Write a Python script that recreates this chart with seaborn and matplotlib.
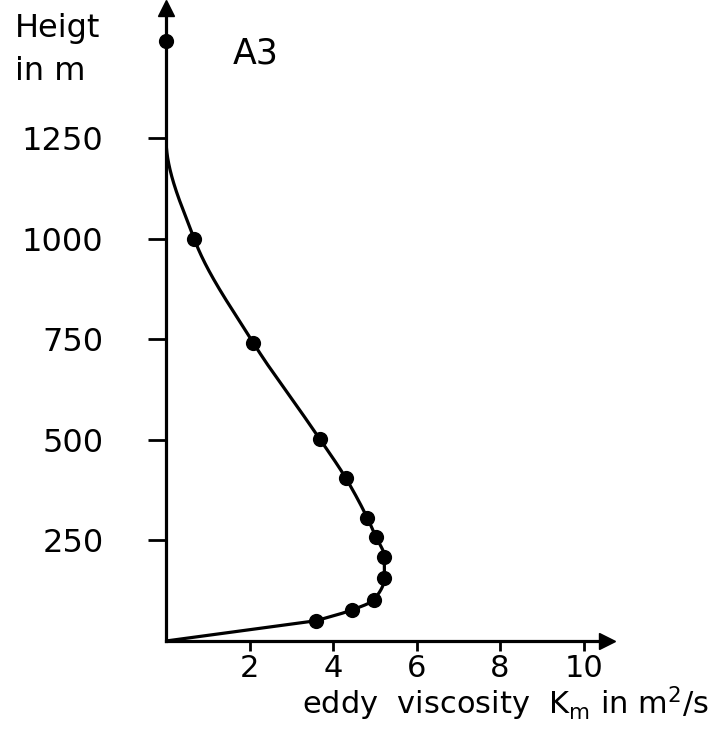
import numpy as np
import matplotlib
matplotlib.use("Agg")
import matplotlib.pyplot as plt
import seaborn as sns

# Measured points: eddy viscosity K_m (m^2/s) vs height (m)
heights = [50, 77, 102, 157, 209, 258, 306, 404, 501, 741, 998, 1490]
viscosity = [3.58, 4.45, 4.97, 5.23, 5.23, 5.03, 4.82, 4.31, 3.69, 2.09, 0.68, 0.0]

# Anchor points of the hand-drawn profile curve (origin and where it meets the axis)
anchor_heights = [0, 1250]
anchor_viscosity = [0.0, 0.0]

x_ticks = [2, 4, 6, 8, 10]
y_ticks = [250, 500, 750, 1000, 1250]

sns.set_theme(style="white")
plt.rcParams['font.family'] = ['DejaVu Sans']
plt.rcParams['mathtext.fontset'] = 'dejavusans'
plt.rcParams['text.color'] = 'black'


def pchip(xk, yk, xq):
    xk = np.asarray(xk, float); yk = np.asarray(yk, float)
    h = np.diff(xk); d = np.diff(yk) / h
    n = len(xk)
    m = np.zeros(n)
    for i in range(1, n - 1):
        if d[i - 1] * d[i] <= 0:
            m[i] = 0
        else:
            w1 = 2 * h[i] + h[i - 1]; w2 = h[i] + 2 * h[i - 1]
            m[i] = (w1 + w2) / (w1 / d[i - 1] + w2 / d[i])
    m[0] = d[0]; m[-1] = d[-1]
    out = np.empty_like(xq)
    idx = np.clip(np.searchsorted(xk, xq) - 1, 0, n - 2)
    for j, (q, i) in enumerate(zip(xq, idx)):
        t = (q - xk[i]) / h[i]
        h00 = 2 * t**3 - 3 * t**2 + 1; h10 = t**3 - 2 * t**2 + t
        h01 = -2 * t**3 + 3 * t**2; h11 = t**3 - t**2
        out[j] = h00 * yk[i] + h10 * h[i] * m[i] + h01 * yk[i + 1] + h11 * h[i] * m[i + 1]
    return out


# Build smooth curve through data + anchors (x as function of height)
ch = np.array(anchor_heights[:1] + heights[:-1] + anchor_heights[1:] + heights[-1:], float)
cx = np.array(anchor_viscosity[:1] + viscosity[:-1] + anchor_viscosity[1:] + viscosity[-1:], float)
order = np.argsort(ch)
ch, cx = ch[order], cx[order]
hq = np.linspace(0, ch[-1], 800)
# straight segment from origin to first point
xq = np.where(hq <= heights[0], hq / heights[0] * viscosity[0],
              pchip(ch[1:], cx[1:], np.clip(hq, heights[0], None)))
xq = np.clip(xq, 0, None)

fig = plt.figure(figsize=(7.25, 7.3), dpi=100)
ax = fig.add_axes([166 / 725, 89 / 730, 441 / 725, 633 / 730])

sns.lineplot(x=xq, y=hq, sort=False, estimator=None, color='black', lw=2.3, ax=ax)
sns.scatterplot(x=viscosity, y=heights, color='black', s=120, edgecolor='black',
                linewidth=0, ax=ax, zorder=5, clip_on=False)

ax.set_xlim(0, 10.56)
ax.set_ylim(0, 1573)
ax.set_xticks(x_ticks)
ax.set_xticklabels([str(v) for v in x_ticks])
ax.set_yticks(y_ticks)
ax.set_yticklabels([str(v) for v in y_ticks])
for s in ['top', 'right']:
    ax.spines[s].set_visible(False)
for s in ['left', 'bottom']:
    ax.spines[s].set_color('black')
    ax.spines[s].set_linewidth(2.3)
ax.tick_params(axis='x', direction='out', length=7.5, width=2, colors='black',
               labelsize=22, pad=2, bottom=True)
ax.tick_params(axis='y', direction='out', length=13, width=2, colors='black',
               labelsize=23, pad=32, left=True)
ax.set_xlabel('')
ax.set_ylabel('')

# arrow heads
ax.plot(1, 0, marker='>', color='black', markersize=11, transform=ax.transAxes, clip_on=False)
ax.plot(0, 1, marker='^', color='black', markersize=11, transform=ax.transAxes, clip_on=False)

fig.text(15 / 725, (730 - 37) / 730, 'Heigt', fontsize=23, va='baseline', ha='left', color='black')
fig.text(15 / 725, (730 - 80) / 730, 'in m', fontsize=23, va='baseline', ha='left', color='black')
fig.text(233 / 725, (730 - 63) / 730, 'A3', fontsize=25, va='baseline', ha='left', color='black')
fig.text(302 / 725, (730 - 714) / 730, r'eddy  viscosity  K$_\mathrm{m}$ in m$^2$/s',
         fontsize=22, va='baseline', ha='left', color='black')

fig.savefig('out.png', dpi=100, facecolor='white')
